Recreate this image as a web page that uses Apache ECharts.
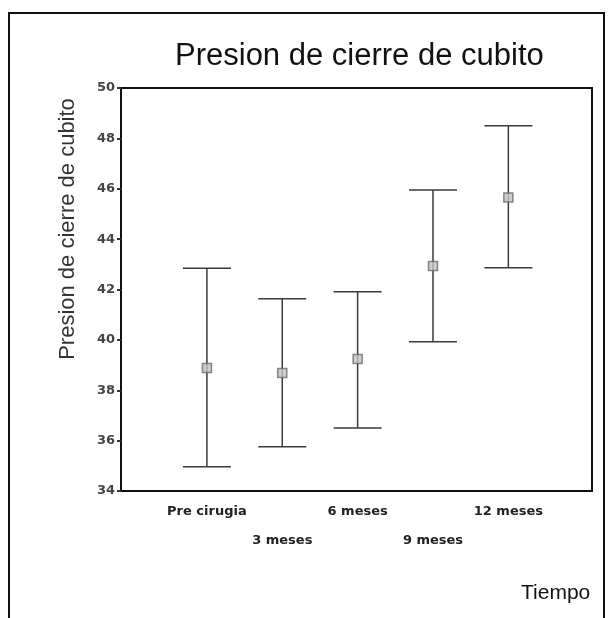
<!DOCTYPE html>
<html>
<head>
<meta charset="utf-8">
<script src="https://cdn.jsdelivr.net/npm/echarts@6/dist/echarts.min.js"></script>
<style>
  html, body { margin: 0; padding: 0; background: #fff; }
  #main { width: 610px; height: 618px; }
</style>
</head>
<body>
<div id="main"></div>
<script>
// categorias del eje X
var tiempos = ['Pre cirugia', '3 meses', '6 meses', '9 meses', '12 meses'];
// media e intervalo de confianza
var medias = [38.88, 38.68, 39.24, 42.93, 45.65];
var icInf = [34.96, 35.76, 36.50, 39.93, 42.86];
var icSup = [42.84, 41.63, 41.91, 45.95, 48.50];
var yTicks = { min: 34, max: 50, step: 2 };

var myChart = echarts.init(document.getElementById('main'));

var barras = tiempos.map(function (t, i) { return [i, icInf[i], icSup[i]]; });
var puntos = tiempos.map(function (t, i) { return [i, medias[i]]; });

myChart.setOption({
  animation: false,
  title: {
    text: 'Presion de cierre de cubito',
    left: 170,
    top: 36,
    textStyle: { fontFamily: 'Liberation Sans', fontSize: 31, fontWeight: 'normal', color: '#111' }
  },
  grid: {
    left: 121, right: 18, top: 88, bottom: 127,
    show: true, borderColor: '#111', borderWidth: 2, backgroundColor: 'transparent'
  },
  xAxis: {
    type: 'value',
    min: -1.14,
    max: 5.11,
    splitLine: { show: false },
    axisTick: { show: false },
    axisLine: { show: true, onZero: false, lineStyle: { color: '#111', width: 2 } },
    axisLabel: {
      customValues: [0, 1, 2, 3, 4],
      margin: 6,
      lineHeight: 29,
      fontFamily: 'DejaVu Sans',
      fontWeight: 'bold',
      fontSize: 13,
      color: '#222',
      formatter: function (v) {
        var i = Math.round(v);
        // etiquetas alternadas en dos filas
        return i % 2 === 1 ? '\n' + tiempos[i] : tiempos[i];
      }
    }
  },
  yAxis: {
    type: 'value',
    min: yTicks.min,
    max: yTicks.max,
    interval: yTicks.step,
    splitLine: { show: false },
    axisLine: { show: true, onZero: false, lineStyle: { color: '#111', width: 2 } },
    axisTick: { show: true, length: 4, lineStyle: { color: '#333', width: 2 } },
    axisLabel: {
      margin: 6,
      fontFamily: 'DejaVu Sans',
      fontWeight: 'bold',
      fontSize: 13,
      color: '#444'
    }
  },
  graphic: [
    {
      type: 'rect',
      shape: { x: 9, y: 13, width: 595, height: 700 },
      style: { fill: 'none', stroke: '#111', lineWidth: 2 },
      silent: true
    },
    {
      type: 'text',
      x: 68, y: 229,
      rotation: Math.PI / 2,
      style: {
        text: 'Presion de cierre de cubito',
        font: '22px "Liberation Sans"',
        fill: '#333',
        align: 'center',
        verticalAlign: 'middle'
      }
    },
    {
      type: 'text',
      left: 521, top: 583,
      style: { text: 'Tiempo', font: '21px "Liberation Sans"', fill: '#111' }
    }
  ],
  series: [
    {
      type: 'custom',
      data: barras,
      renderItem: function (params, api) {
        var x = api.value(0);
        var lo = api.coord([x, api.value(1)]);
        var hi = api.coord([x, api.value(2)]);
        var half = 24;
        var st = { stroke: '#3a3a3a', lineWidth: 1.5 };
        return {
          type: 'group',
          children: [
            { type: 'line', shape: { x1: lo[0], y1: lo[1], x2: hi[0], y2: hi[1] }, style: st },
            { type: 'line', shape: { x1: hi[0] - half, y1: hi[1], x2: hi[0] + half, y2: hi[1] }, style: st },
            { type: 'line', shape: { x1: lo[0] - half, y1: lo[1], x2: lo[0] + half, y2: lo[1] }, style: st }
          ]
        };
      }
    },
    {
      type: 'scatter',
      data: puntos,
      symbol: 'rect',
      symbolSize: 9,
      z: 5,
      itemStyle: { color: '#c4c4c4', borderColor: '#6a6a6a', borderWidth: 1.5 }
    }
  ]
});
</script>
</body>
</html>
